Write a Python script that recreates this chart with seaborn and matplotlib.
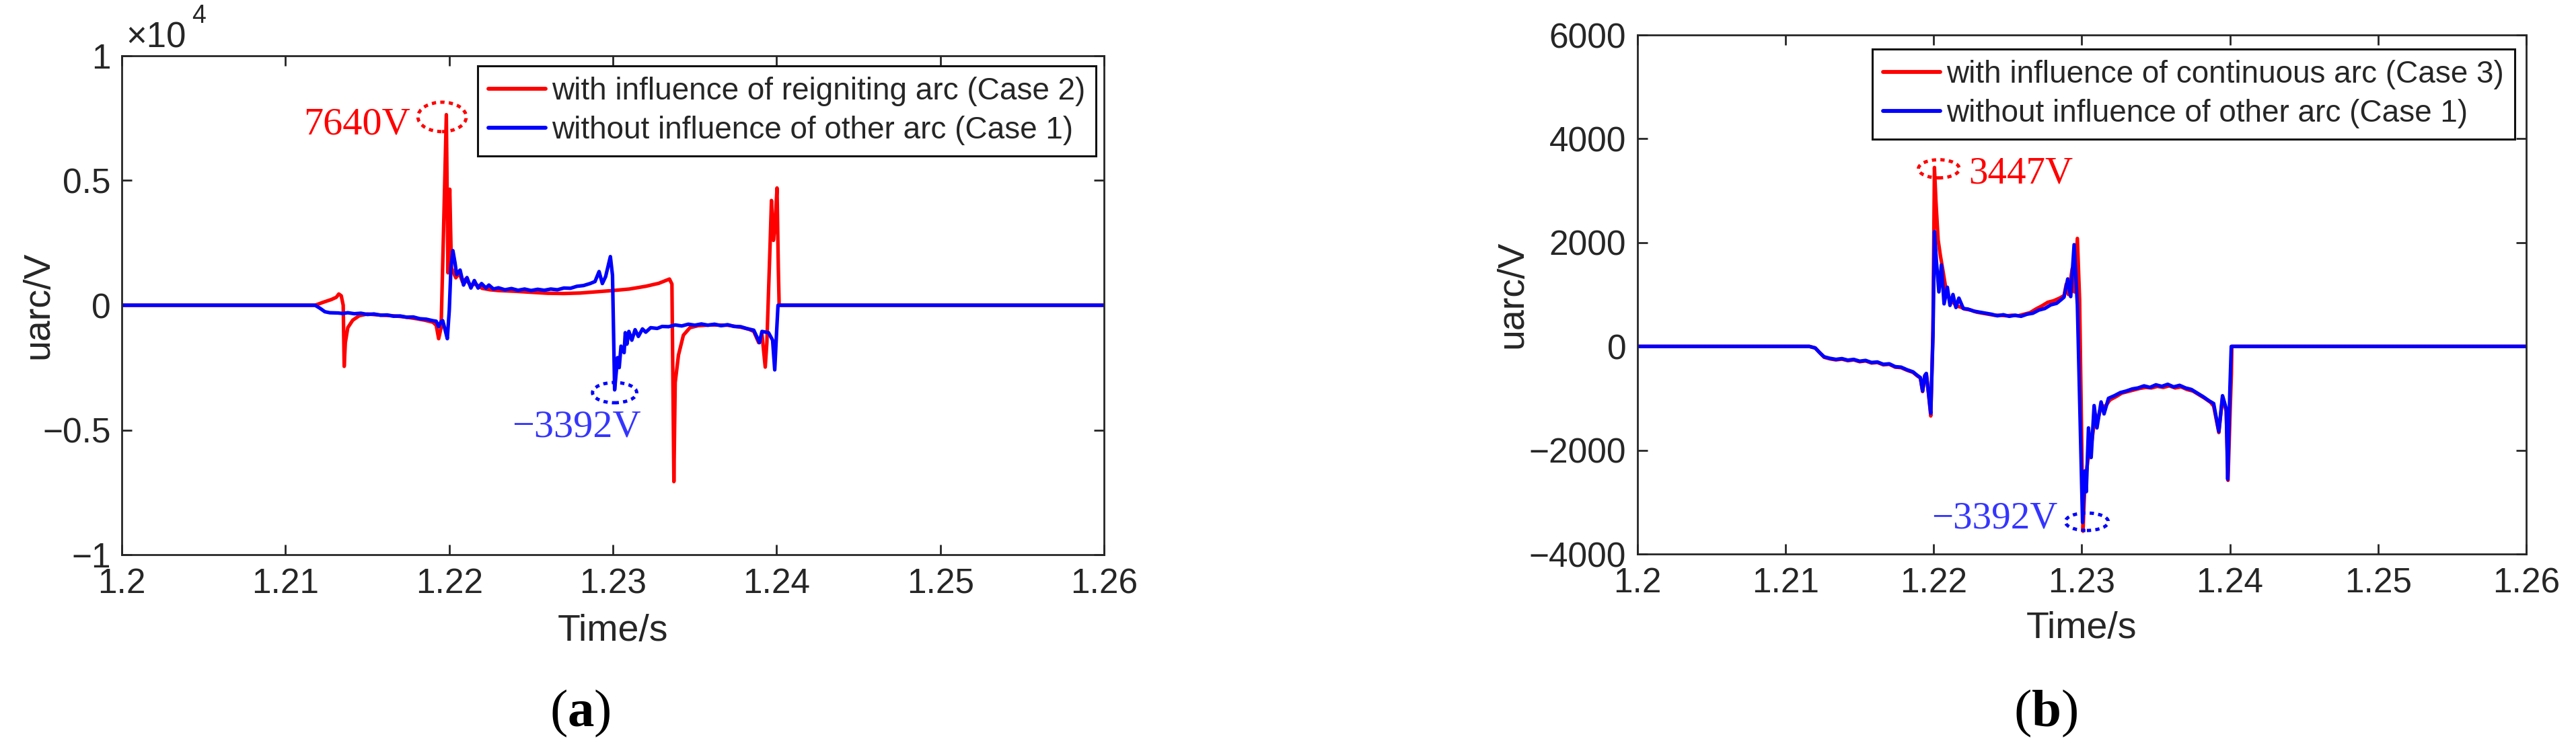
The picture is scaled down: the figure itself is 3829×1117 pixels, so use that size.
import numpy as np
import pandas as pd
import seaborn as sns
import matplotlib.pyplot as plt
from matplotlib.patches import Ellipse
from matplotlib.ticker import FuncFormatter

# (a) arc voltage, reigniting arc (Case 2) vs no other arc (Case 1): (time s, voltage V)
a_case2 = [
    (1.2000, 0), (1.2118, 0), (1.2123, 120), (1.2128, 230), (1.2131, 320), (1.21325, 450),
    (1.2134, 380), (1.21352, 0), (1.21358, -2450), (1.21365, -1500), (1.2138, -900),
    (1.2141, -600), (1.2145, -420), (1.2150, -350), (1.2155, -380), (1.2160, -400),
    (1.2165, -420), (1.2170, -450), (1.2175, -490), (1.2180, -540), (1.2185, -600),
    (1.2190, -680), (1.2192, -800), (1.21935, -1340), (1.2195, -900), (1.21965, 3000),
    (1.21982, 7640), (1.21992, 1300), (1.22003, 4650), (1.22013, 1500), (1.2204, 1100),
    (1.2206, 1300), (1.2208, 950), (1.2210, 1050), (1.2213, 800), (1.2216, 850),
    (1.2220, 680), (1.2225, 620), (1.2230, 590), (1.2240, 560), (1.2250, 520),
    (1.2260, 480), (1.2270, 470), (1.2280, 490), (1.2290, 540), (1.2300, 590),
    (1.2310, 650), (1.2320, 760), (1.2328, 880), (1.23345, 1050), (1.2336, 850),
    (1.23372, -7070), (1.2338, -3100), (1.2340, -2000), (1.2343, -1200), (1.2347, -900),
    (1.2352, -820), (1.2360, -790), (1.2370, -800), (1.2378, -880), (1.2383, -960),
    (1.2386, -1050), (1.2389, -1500), (1.2391, -1150), (1.2393, -2480), (1.2394, -1500),
    (1.2396, 2500), (1.23968, 4200), (1.2398, 2600), (1.2399, 3200), (1.24002, 4700),
    (1.2401, 1500), (1.24015, 0), (1.2600, 0),
]
a_case1 = [
    (1.2000, 0), (1.2118, 0), (1.2121, -120), (1.2124, -260), (1.2127, -300),
    (1.2132, -310), (1.2135, -330), (1.2138, -300), (1.2142, -340), (1.2146, -320),
    (1.2150, -370), (1.2154, -350), (1.2158, -400), (1.2162, -390), (1.2166, -440),
    (1.2170, -430), (1.2174, -480), (1.2178, -470), (1.2182, -540), (1.2186, -560),
    (1.2190, -620), (1.2192, -640), (1.21935, -860), (1.2195, -650), (1.2196, -620),
    (1.21975, -1000), (1.21988, -1340), (1.2200, -200), (1.2201, 1500), (1.22022, 2190),
    (1.22035, 1700), (1.22045, 1230), (1.22066, 1410), (1.22087, 810), (1.22108, 1110),
    (1.22132, 690), (1.22153, 990), (1.22176, 690), (1.22197, 870), (1.22224, 690),
    (1.22242, 810), (1.2227, 650), (1.2230, 700), (1.2234, 620), (1.2238, 670),
    (1.2242, 600), (1.2246, 650), (1.2250, 590), (1.2254, 640), (1.2258, 600),
    (1.2262, 650), (1.2266, 620), (1.2270, 690), (1.2274, 680), (1.2278, 760),
    (1.2282, 790), (1.2286, 870), (1.2289, 950), (1.22915, 1350), (1.22935, 870),
    (1.22955, 1150), (1.22984, 1950), (1.22997, 1200), (1.2301, -3392), (1.23028, -2100),
    (1.23038, -2500), (1.23049, -1640), (1.23068, -1900), (1.23075, -1100), (1.23085, -1560),
    (1.23097, -1050), (1.23115, -1400), (1.23135, -980), (1.23155, -1250), (1.2318, -950),
    (1.2320, -1080), (1.2323, -900), (1.2327, -930), (1.2330, -850), (1.2334, -860),
    (1.2338, -790), (1.2342, -830), (1.2346, -760), (1.2350, -800), (1.2354, -750),
    (1.2358, -800), (1.2362, -760), (1.2366, -820), (1.2370, -780), (1.2374, -850),
    (1.2378, -860), (1.2382, -940), (1.2386, -1000), (1.23895, -1500), (1.2391, -1050),
    (1.2395, -1100), (1.23975, -1400), (1.23988, -2590), (1.2400, -1000), (1.24008, 0),
    (1.2600, 0),
]

# (b) continuous arc (Case 3) vs no other arc (Case 1)
b_case3 = [
    (1.2000, 0), (1.2116, 0), (1.2120, -30), (1.2123, -120), (1.2126, -210), (1.2130, -240),
    (1.2134, -260), (1.2138, -245), (1.2142, -275), (1.2146, -260), (1.2150, -295),
    (1.2154, -280), (1.2158, -320), (1.2162, -310), (1.2166, -355), (1.2170, -345),
    (1.2174, -400), (1.2178, -410), (1.2182, -460), (1.2186, -500), (1.2189, -570),
    (1.2191, -610), (1.21925, -870), (1.2194, -570), (1.2195, -530), (1.21965, -910),
    (1.2198, -1340), (1.21995, 300), (1.22005, 3447), (1.22015, 2800), (1.2203, 2050),
    (1.22045, 1750), (1.2206, 1500), (1.2208, 1150), (1.2210, 950), (1.2212, 900),
    (1.2215, 780), (1.2218, 760), (1.2221, 720), (1.2225, 700), (1.2229, 660),
    (1.2233, 640), (1.2237, 620), (1.2241, 600), (1.2245, 600), (1.2249, 590),
    (1.2253, 600), (1.2257, 590), (1.2261, 620), (1.2265, 650), (1.2269, 720),
    (1.2273, 780), (1.2277, 850), (1.2281, 880), (1.2285, 930), (1.2288, 980),
    (1.22895, 1200), (1.2291, 1000), (1.22935, 1500), (1.2295, 1050), (1.2297, 2080),
    (1.22985, 900), (1.23008, -3560), (1.2302, -2700), (1.2304, -2200), (1.2306, -2000),
    (1.2308, -1550), (1.2310, -1500), (1.2313, -1150), (1.2316, -1150), (1.2319, -1030),
    (1.2323, -970), (1.2327, -900), (1.2331, -870), (1.2335, -840), (1.2339, -810),
    (1.2343, -790), (1.2347, -800), (1.2351, -770), (1.2355, -790), (1.2359, -760),
    (1.2363, -800), (1.2367, -780), (1.2371, -830), (1.2375, -860), (1.2379, -930),
    (1.2383, -1000), (1.2387, -1080), (1.2389, -1150), (1.23925, -1660), (1.2395, -980),
    (1.23975, -1250), (1.23987, -2580), (1.24003, -1100), (1.2401, -520), (1.24013, 0),
    (1.2600, 0),
]
b_case1 = [
    (1.2000, 0), (1.2116, 0), (1.2120, -30), (1.2123, -120), (1.2126, -200), (1.2130, -230),
    (1.2134, -250), (1.2138, -235), (1.2142, -265), (1.2146, -250), (1.2150, -285),
    (1.2154, -270), (1.2158, -310), (1.2162, -300), (1.2166, -345), (1.2170, -335),
    (1.2174, -390), (1.2178, -400), (1.2182, -450), (1.2186, -490), (1.2189, -560),
    (1.2191, -600), (1.21925, -860), (1.2194, -560), (1.2195, -520), (1.21965, -900),
    (1.2198, -1290), (1.21995, 200), (1.22005, 2210), (1.22018, 1650), (1.22035, 1050),
    (1.22052, 1570), (1.2207, 820), (1.22092, 1140), (1.2211, 790), (1.2213, 1000),
    (1.2215, 750), (1.2217, 930), (1.2220, 730), (1.2223, 720), (1.2227, 680),
    (1.2231, 660), (1.2235, 640), (1.2239, 620), (1.2243, 590), (1.2247, 610),
    (1.2251, 580), (1.2255, 600), (1.2259, 580), (1.2263, 620), (1.2267, 640),
    (1.2271, 700), (1.2275, 730), (1.2279, 800), (1.2283, 830), (1.2286, 900),
    (1.2288, 950), (1.22905, 1300), (1.22925, 960), (1.22948, 1960), (1.2297, 800),
    (1.23005, -3392), (1.2302, -2400), (1.2303, -2800), (1.23045, -1570), (1.23063, -2140),
    (1.23083, -1140), (1.23102, -1570), (1.2313, -1070), (1.2315, -1300), (1.2318, -1000),
    (1.2322, -950), (1.2326, -890), (1.2330, -860), (1.2334, -820), (1.2338, -800),
    (1.2342, -760), (1.2346, -790), (1.2350, -740), (1.2354, -770), (1.2358, -730),
    (1.2362, -780), (1.2366, -750), (1.2370, -800), (1.2374, -830), (1.2378, -900),
    (1.2382, -970), (1.2386, -1050), (1.2389, -1100), (1.23925, -1640), (1.2395, -950),
    (1.23975, -1200), (1.23985, -2560), (1.2400, -800), (1.24009, 0), (1.2600, 0),
]

label_case1 = 'without influence of other arc (Case 1)'
label_case2 = 'with influence of reigniting arc (Case 2)'
label_case3 = 'with influence of continuous arc (Case 3)'

time_ticks = [1.2, 1.21, 1.22, 1.23, 1.24, 1.25, 1.26]
a_yticks = [-10000, -5000, 0, 5000, 10000]
b_yticks = [-4000, -2000, 0, 2000, 4000, 6000]

sns.set_theme(style='white')
plt.rcParams['font.family'] = ['Liberation Sans', 'DejaVu Sans']
plt.rcParams['mathtext.fontset'] = 'custom'
plt.rcParams['mathtext.rm'] = 'Liberation Serif'
plt.rcParams['mathtext.bf'] = 'Liberation Serif:bold'

INK = '#262626'
RED = '#ff0000'
BLUE = '#0000ff'
TXT_BLUE = '#3535ff'
LW = 3.8


def to_frame(points):
    return pd.DataFrame(points, columns=['t', 'v'])


def style_axes(ax, yticks, fmt, ylim):
    ax.set_xlim(1.2, 1.26)
    ax.set_ylim(*ylim)
    ax.set_xticks(time_ticks)
    ax.set_yticks(yticks)
    ax.xaxis.set_major_formatter(FuncFormatter(lambda v, p: '%g' % round(v, 3)))
    ax.yaxis.set_major_formatter(FuncFormatter(fmt))
    ax.tick_params(direction='in', length=10.8, width=2, colors=INK, labelsize=37,
                   top=True, right=True, bottom=True, left=True)
    ax.tick_params(axis='x', pad=14)
    ax.tick_params(axis='y', pad=12)
    for s in ax.spines.values():
        s.set_visible(True)
        s.set_color(INK)
        s.set_linewidth(2)
    ax.set_xlabel('Time/s', fontsize=40, color=INK)
    ax.set_ylabel('uarc/V', fontsize=40, color=INK)


def draw_panel(ax, red_pts, red_label, blue_pts):
    sns.lineplot(data=to_frame(red_pts), x='t', y='v', color=RED, linewidth=LW,
                 estimator=None, label=red_label, ax=ax)
    sns.lineplot(data=to_frame(blue_pts), x='t', y='v', color=BLUE, linewidth=LW,
                 estimator=None, label=label_case1, ax=ax)


def add_legend(ax, anchor):
    leg = ax.legend(loc='upper right', bbox_to_anchor=anchor, borderaxespad=0,
                    fontsize=33, fancybox=False, framealpha=1, edgecolor='#111111',
                    handlelength=1.85, handletextpad=0.2, borderpad=0.35, labelspacing=0.3)
    leg.get_frame().set_linewidth(2.2)
    for line in leg.get_lines():
        line.set_linewidth(4.2)


def mark(ax, xy, w, h, color):
    ax.add_patch(Ellipse(xy, w, h, fill=False, edgecolor=color, linestyle=(0, (1.3, 1.3)),
                         linewidth=3.5, zorder=5))


fig = plt.figure(figsize=(38.3, 11.17), dpi=100)
ax1 = fig.add_axes([0.0473, 0.2614, 0.3812, 0.6643])
ax2 = fig.add_axes([0.6355, 0.2623, 0.3449, 0.6911])

# panel (a)
draw_panel(ax1, a_case2, label_case2, a_case1)
style_axes(ax1, a_yticks, lambda v, p: ('%g' % (v / 1e4)).replace('-', '\u2212'), (-10000, 10000))
ax1.xaxis.set_label_coords(0.5, -0.118)
ax1.yaxis.set_label_coords(-0.067, 0.5)
ax1.text(0.004, 1.0175, '\u00d710', transform=ax1.transAxes, fontsize=38,
         color=INK, ha='left', va='baseline')
ax1.text(0.0715, 1.066, '4', transform=ax1.transAxes, fontsize=27,
         color=INK, ha='left', va='baseline')
add_legend(ax1, (0.9918, 0.9798))
mark(ax1, (1.21956, 7550), 0.00295, 1180, RED)
mark(ax1, (1.2301, -3504), 0.0027, 810, BLUE)
ax1.text(1.21763, 7237, '7640V', color=RED, fontsize=42, family='Liberation Serif',
         ha='right', va='center')
ax1.text(1.22778, -4879, '\u22123392V', color=TXT_BLUE, fontsize=42,
         family='Liberation Serif', ha='center', va='center')

# panel (b)
draw_panel(ax2, b_case3, label_case3, b_case1)
style_axes(ax2, b_yticks, lambda v, p: ('%d' % v).replace('-', '\u2212'), (-4000, 6000))
ax2.xaxis.set_label_coords(0.5, -0.11)
ax2.yaxis.set_label_coords(-0.121, 0.5)
add_legend(ax2, (0.9871, 0.9728))
mark(ax2, (1.22035, 3422), 0.00277, 350, RED)
mark(ax2, (1.23034, -3378), 0.0029, 337, BLUE)
ax2.text(1.22235, 3332, '3447V', color=RED, fontsize=41, family='Liberation Serif',
         ha='left', va='center')
ax2.text(1.22839, -3326, '\u22123392V', color=TXT_BLUE, fontsize=41,
         family='Liberation Serif', ha='right', va='center')

fig.text(0.2251, 0.0501, r'($\mathbf{a}$)', fontsize=57, family='Liberation Serif',
         color='black', ha='center', va='center')
fig.text(0.7940, 0.0501, r'($\mathbf{b}$)', fontsize=57, family='Liberation Serif',
         color='black', ha='center', va='center')

fig.savefig('out.png', dpi=100)
